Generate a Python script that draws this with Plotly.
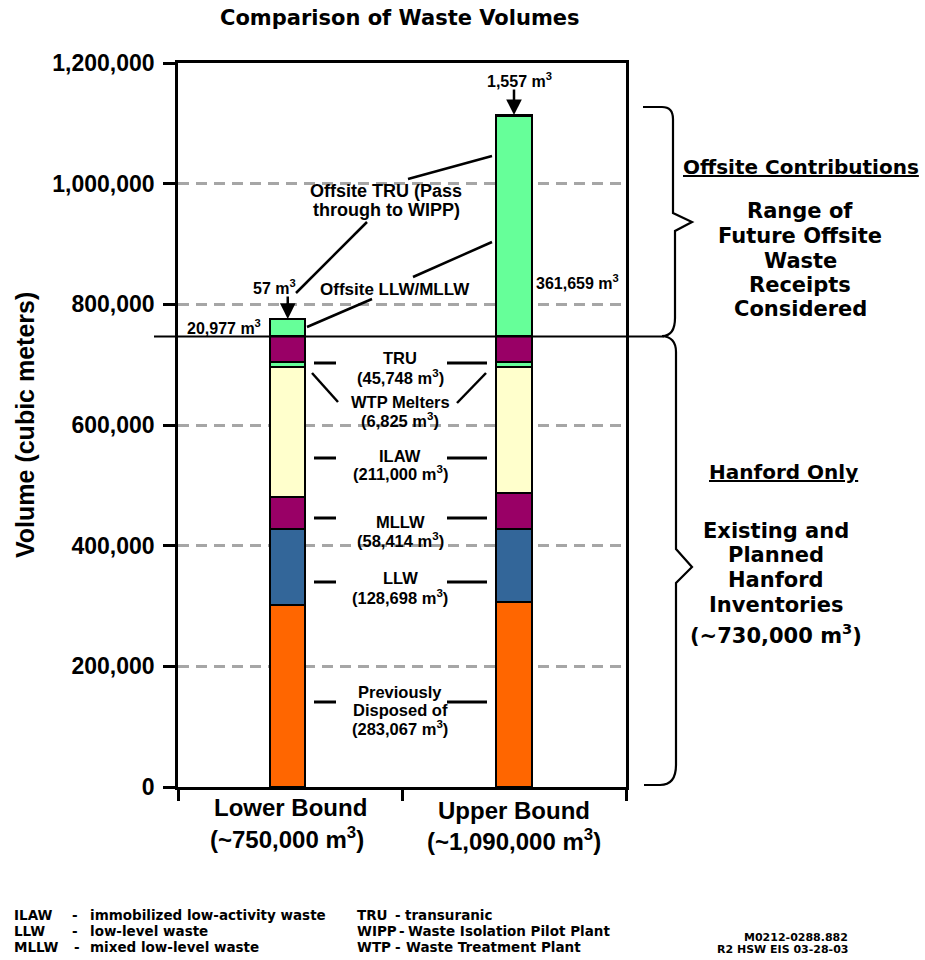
import plotly.graph_objects as go

# ---------------- data ----------------
bounds = ["Lower Bound", "Upper Bound"]
bound_totals = ["(~750,000 m<sup>3</sup>)", "(~1,090,000 m<sup>3</sup>)"]
segments = ["Previously Disposed of", "LLW", "MLLW", "ILAW", "WTP Melters",
            "TRU", "Offsite LLW/MLLW", "Offsite TRU"]
lower_values = [301700, 125900, 53100, 215500, 8300, 42200, 29000, 57]
upper_values = [306600, 121000, 58900, 209700, 8300, 42200, 365500, 1557]
seg_colors = ["#FF6600", "#336699", "#990066", "#FFFFCC", "#66FF99",
              "#990066", "#66FF99", "#66FF99"]
y_ticks = [0, 200000, 400000, 600000, 800000, 1000000, 1200000]
y_tick_labels = ["0", "200,000", "400,000", "600,000", "800,000", "1,000,000", "1,200,000"]

# ---------------- geometry helpers ----------------
W, H = 925, 960
L, R, T, B = 178, 626, 63, 787
def px(x):
    return (x - L) / (R - L)
def py(y):
    return (B - y) / (B - T)

BOLD = "Liberation Sans"
HEAVY = "DejaVu Sans"

fig = go.Figure()
xpos = [0.49, 1.5]
for name, lv, uv, col in zip(segments, lower_values, upper_values, seg_colors):
    fig.add_trace(go.Bar(
        x=xpos, y=[lv, uv], name=name, width=0.158,
        marker=dict(color=col, line=dict(color="black", width=2)),
        showlegend=False, hoverinfo="name+y"))

hanford_total = sum(lower_values[:6])

shapes = []
def seg(x0, y0, x1, y1, w=2.5):
    shapes.append(dict(type="line", xref="paper", yref="paper",
                       x0=px(x0), y0=py(y0), x1=px(x1), y1=py(y1),
                       line=dict(color="black", width=w), layer="above"))

# main Hanford-only divider line
shapes.append(dict(type="line", xref="paper", yref="y", x0=px(154), x1=px(664),
                   y0=hanford_total, y1=hanford_total,
                   line=dict(color="black", width=2.2), layer="above"))

# leader lines for offsite labels
seg(492, 156, 408, 179)
seg(367, 222, 296, 293)
seg(492, 242, 413, 277)
seg(372, 299, 307, 327)
# dashes for middle labels
for yy in [363, 458, 518, 582, 702]:
    seg(314, yy, 336, yy, 3)
    seg(447, yy, 487, yy, 3)
seg(312, 373, 338, 402)
seg(486, 373, 457, 403)

# braces
def path(pts):
    s = ""
    for p in pts:
        cmd, coords = p[0], p[1:]
        s += cmd + " " + " ".join(
            f"{px(coords[i]):.5f},{py(coords[i+1]):.5f}" for i in range(0, len(coords), 2)) + " "
    return s.strip()

top_brace = path([("M", 643, 107), ("L", 662, 107), ("Q", 673, 107, 673, 119),
                  ("L", 673, 213), ("L", 692, 222), ("L", 675, 231),
                  ("L", 675, 318), ("Q", 675, 336, 662, 336)])
bot_brace = path([("M", 662, 336), ("Q", 676, 337, 676, 352), ("L", 676, 549),
                  ("L", 692, 567), ("L", 676, 583), ("L", 676, 765),
                  ("Q", 676, 785, 660, 785), ("L", 644, 785)])
for p in (top_brace, bot_brace):
    shapes.append(dict(type="path", xref="paper", yref="paper", path=p,
                       line=dict(color="black", width=2.2), layer="above"))

ann = []
def text(x, y, s, size=16, family=BOLD, anchor="center", **kw):
    ann.append(dict(xref="paper", yref="paper", x=px(x), y=py(y), text=f"<b>{s}</b>",
                    showarrow=False, xanchor=anchor, yanchor="middle",
                    font=dict(family=family, size=size, color="black"), **kw))

# title and axis title
text(400, 18, "Comparison of Waste Volumes", 21, HEAVY)
text(25, 425, "Volume (cubic meters)", 25, BOLD, textangle=-90)

# category labels
text(290, 808, bounds[0], 24)
text(287, 838, bound_totals[0], 24)
text(514, 811, bounds[1], 24)
text(514, 840, bound_totals[1], 24)

# offsite annotations
text(519, 80, "1,557 m<sup>3</sup>", 16)
text(274, 287, "57 m<sup>3</sup>", 16)
text(224, 327, "20,977 m<sup>3</sup>", 16)
text(577, 282, "361,659 m<sup>3</sup>", 16)
text(386, 191, "Offsite TRU (Pass", 18)
text(386, 210, "through to WIPP)", 18)
text(395, 289, "Offsite LLW/MLLW", 17)

# arrows pointing to the offsite TRU tops
for xv, yv, ln in [(xpos[0], sum(lower_values), 24), (xpos[1], sum(upper_values), 27)]:
    ann.append(dict(x=xv, y=yv, xref="x", yref="y", text="", showarrow=True,
                    ax=0, ay=-ln, axref="pixel", ayref="pixel",
                    arrowhead=2, arrowsize=1.25, arrowwidth=2.5, arrowcolor="black"))

# middle labels
mid = [("TRU", 358), ("(45,748 m<sup>3</sup>)", 377), ("WTP Melters", 402),
       ("(6,825 m<sup>3</sup>)", 420), ("ILAW", 456), ("(211,000 m<sup>3</sup>)", 473),
       ("MLLW", 522), ("(58,414 m<sup>3</sup>)", 540), ("LLW", 578),
       ("(128,698 m<sup>3</sup>)", 597), ("Previously", 692), ("Disposed of", 710),
       ("(283,067 m<sup>3</sup>)", 728)]
for s, yy in mid:
    text(400, yy, s, 16.5)

# right side texts
text(801, 167, "<u>Offsite Contributions</u>", 20, HEAVY)
for s, yy in [("Range of", 211), ("Future Offsite", 236), ("Waste", 261),
              ("Receipts", 285), ("Considered", 309)]:
    text(800, yy, s, 21, HEAVY)
text(783, 472, "<u>Hanford Only</u>", 20, HEAVY)
for s, yy in [("Existing and", 531), ("Planned", 555), ("Hanford", 580),
              ("Inventories", 605), ("(~730,000 m<sup>3</sup>)", 634)]:
    text(776, yy, s, 21, HEAVY)

# bottom glossary
gl = [(12, 70, 88, 915, "ILAW", "immobilized low-activity waste"),
      (12, 70, 88, 931, "LLW", "low-level waste"),
      (12, 72, 88, 947, "MLLW", "mixed low-level waste"),
      (355, 393, 403, 915, "TRU", "transuranic"),
      (355, 397, 406, 931, "WIPP", "Waste Isolation Pilot Plant"),
      (355, 393, 404, 947, "WTP", "Waste Treatment Plant")]
for xa, xd, xt, yy, ab, desc in gl:
    text(xa, yy, ab, 13.5, HEAVY, anchor="left")
    text(xd, yy, "-", 13.5, HEAVY, anchor="left")
    text(xt, yy, desc, 13.5, HEAVY, anchor="left")
text(850, 937, "M0212-0288.882", 11, HEAVY, anchor="right")
text(850, 949, "R2 HSW EIS 03-28-03", 11, HEAVY, anchor="right")

fig.update_layout(
    width=W, height=H, barmode="stack", bargap=0,
    margin=dict(l=L, r=W - R, t=T, b=H - B, pad=0),
    paper_bgcolor="white", plot_bgcolor="white",
    shapes=shapes, annotations=ann,
    xaxis=dict(range=[0, 2], tickvals=[0, 1, 2], showticklabels=False,
               ticks="outside", ticklen=11, tickwidth=2.5, tickcolor="black",
               showline=True, linewidth=2.5, linecolor="black", mirror=True,
               showgrid=False, zeroline=False, fixedrange=True),
    yaxis=dict(range=[0, 1200000], tickvals=y_ticks, ticktext=[f"<b>{t}</b>" for t in y_tick_labels],
               ticks="outside", ticklen=12, tickwidth=2.5, tickcolor="black",
               tickfont=dict(family=BOLD, size=23, color="black"), ticklabelstandoff=4,
               showline=True, linewidth=2.5, linecolor="black", mirror=True,
               showgrid=True, gridcolor="#A6A6A6", gridwidth=2.5, griddash="11px,7px",
               zeroline=False, fixedrange=True),
)
fig.write_html("out.html", config={"displayModeBar": False},
               post_script="document.body.style.margin='0';")
